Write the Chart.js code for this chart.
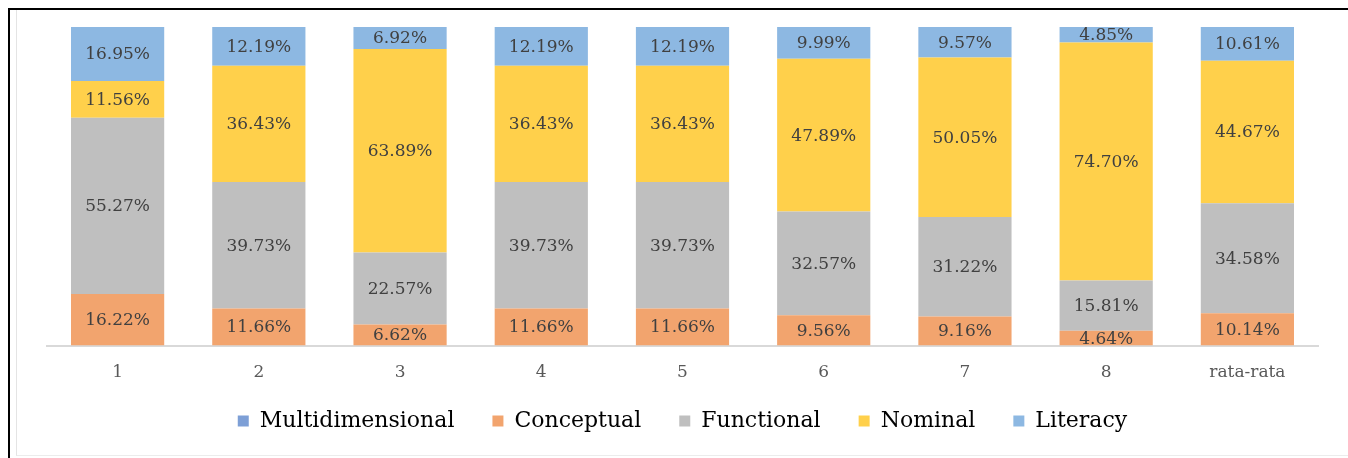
<!DOCTYPE html>
<html>
<head>
<meta charset="utf-8">
<script src="https://cdn.jsdelivr.net/npm/chart.js@4"></script>
<style>
  html, body { margin: 0; padding: 0; background: #fff; }
  #wrap { position: relative; width: 1348px; height: 458px; }
  #frame { position: absolute; left: 8px; top: 8px; right: 0; bottom: 0;
           border-top: 2px solid #000; border-left: 2px solid #000; }
  #inner { position: absolute; left: 16px; top: 10px; right: 0; bottom: 2px;
           border-left: 1px solid #e4e4e4; border-bottom: 1px solid #ececec; }
  canvas { position: absolute; left: 0; top: 0; }
</style>
</head>
<body>
<div id="wrap">
  <div id="frame"></div>
  <div id="inner"></div>
  <canvas id="chart" width="1348" height="458"></canvas>
</div>
<script>
const categories = ['1', '2', '3', '4', '5', '6', '7', '8', 'rata-rata'];
const multidimensional = [0, 0, 0, 0, 0, 0, 0, 0, 0];
const conceptual = [16.22, 11.66, 6.62, 11.66, 11.66, 9.56, 9.16, 4.64, 10.14];
const functional = [55.27, 39.73, 22.57, 39.73, 39.73, 32.57, 31.22, 15.81, 34.58];
const nominal = [11.56, 36.43, 63.89, 36.43, 36.43, 47.89, 50.05, 74.70, 44.67];
const literacy = [16.95, 12.19, 6.92, 12.19, 12.19, 9.99, 9.57, 4.85, 10.61];

// draw the percentage in the middle of each segment
const segmentLabels = {
  id: 'segmentLabels',
  afterDatasetsDraw(chart) {
    const ctx = chart.ctx;
    ctx.save();
    ctx.font = '17px "DejaVu Serif"';
    ctx.fillStyle = '#404040';
    ctx.textAlign = 'center';
    ctx.textBaseline = 'middle';
    chart.data.datasets.forEach((ds, i) => {
      const meta = chart.getDatasetMeta(i);
      meta.data.forEach((bar, j) => {
        const v = ds.data[j];
        if (!v) return;
        ctx.fillText(v.toFixed(2) + '%', bar.x, (bar.y + bar.base) / 2 + 1);
      });
    });
    ctx.restore();
  }
};

// legend padding is shared by x spacing and y spacing; take back some of the
// vertical room so the plot can reach further down
const LEGEND_TRIM = 20;
const legendTrim = {
  id: 'legendTrim',
  afterInit(chart) {
    const lg = chart.legend;
    const fit = lg.fit;
    lg.fit = function () { fit.call(this); this.height -= LEGEND_TRIM; };
    const draw = lg.draw;
    lg.draw = function () {
      this.top -= LEGEND_TRIM;
      draw.call(this);
      this.top += LEGEND_TRIM;
    };
  }
};

new Chart(document.getElementById('chart'), {
  type: 'bar',
  data: {
    labels: categories,
    datasets: [
      { label: 'Multidimensional', data: multidimensional, backgroundColor: '#7d9fd6' },
      { label: 'Conceptual', data: conceptual, backgroundColor: '#f2a46e' },
      { label: 'Functional', data: functional, backgroundColor: '#bfbfbf' },
      { label: 'Nominal', data: nominal, backgroundColor: '#ffd04b' },
      { label: 'Literacy', data: literacy, backgroundColor: '#8db8e2' }
    ]
  },
  options: {
    responsive: false,
    animation: false,
    datasets: { bar: { categoryPercentage: 1, barPercentage: 0.66 } },
    layout: { padding: { left: 47, right: 30, top: 27, bottom: 16 } },
    scales: {
      x: {
        stacked: true,
        grid: { display: false },
        border: { color: '#d9d9d9', width: 2 },
        ticks: { color: '#595959', font: { family: 'DejaVu Serif', size: 17 }, padding: 9 }
      },
      y: { stacked: true, display: false, min: 0, max: 100.01 }
    },
    plugins: {
      tooltip: { enabled: false },
      legend: {
        position: 'bottom',
        labels: {
          boxWidth: 11, boxHeight: 11, padding: 38,
          color: '#000',
          font: { family: 'DejaVu Serif', size: 22 }
        }
      }
    }
  },
  plugins: [segmentLabels, legendTrim]
});
</script>
</body>
</html>
